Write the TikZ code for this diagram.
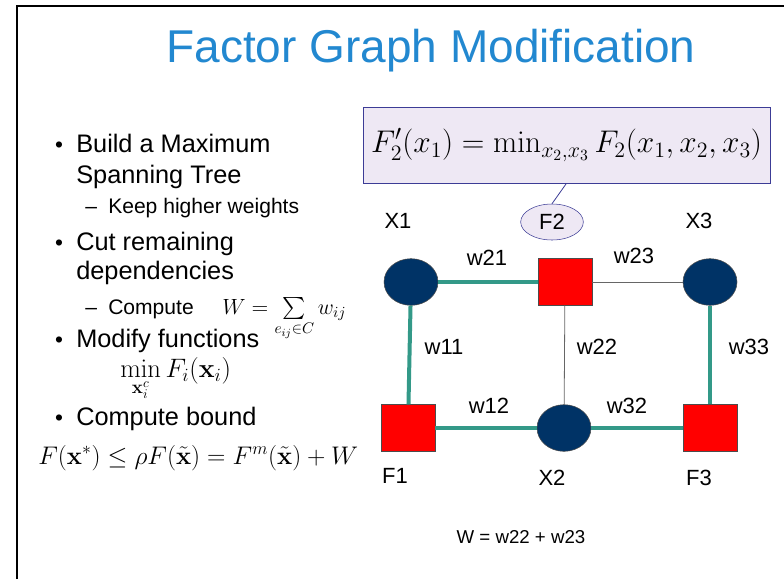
\RequirePackage{fix-cm}
\documentclass[tikz,border=0pt]{standalone}
\usepackage{amsmath}
\usepackage{amssymb}
\usepackage[no-math]{fontspec}
\newfontfamily\slidefont{Liberation Sans}
\usetikzlibrary{positioning}
\usetikzlibrary{shapes.geometric}
\definecolor{titleblue}{RGB}{34,136,208}
\definecolor{darkteal}{RGB}{51,153,136}
\definecolor{darknavy}{RGB}{0,51,102}
\definecolor{lavender}{RGB}{238,232,244}
\definecolor{darkpurple}{RGB}{60,60,150}
\tikzset {
  % variable and factor vertices
  var/.style = {draw=black!70, fill=darknavy, ellipse, minimum width=40.5pt, minimum height=35pt, inner sep=0pt},
  fac/.style = {draw=black!70, fill=red, rectangle, minimum width=40.5pt, minimum height=35pt, inner sep=0pt},
  % edges kept in the tree and edges that are cut
  kept/.style = {darkteal, line width=3pt},
  cut/.style = {black!60, line width=0.6pt},
  % text
  lab/.style = {inner sep=0pt, font=\slidefont\fontsize{16.5}{19}\selectfont},
  item/.style = {inner sep=0pt, anchor=base west, font=\slidefont\fontsize{19}{22}\selectfont},
  subitem/.style = {inner sep=0pt, anchor=base west, font=\slidefont\fontsize{15.8}{18}\selectfont},
  bul/.style = {inner sep=0pt, anchor=base, font=\slidefont\fontsize{17}{19}\selectfont},
  eq/.style = {inner sep=0pt, anchor=base west},
}
\begin{document}
\begin{tikzpicture}[x=0.75pt, y=-0.75pt]
  \useasboundingbox (0,0) rectangle (784,579);
  \draw[line width=1.6pt] (17,579) -- (17,6) -- (784,6);

  \node[inner sep=0pt, anchor=base, text=titleblue, font=\slidefont\fontsize{34.5}{40}\selectfont] (title) at (431,62) {Factor Graph Modification};

  % bullet list
  \node[bul] (b1) at (59,152) {\textbullet};
  \node[item] (t1) at (76,152) {Build a Maximum};
  \node[item] (t2) at (76,183) {Spanning Tree};
  \node[subitem] (d1) at (85,213) {\textendash};
  \node[subitem] (s1) at (108,213) {Keep higher weights};
  \node[bul] (b2) at (59,250) {\textbullet};
  \node[item] (t3) at (76,250) {Cut remaining};
  \node[item] (t4) at (76,279) {dependencies};
  \node[subitem] (d2) at (85,314) {\textendash};
  \node[subitem] (s2) at (108,314) {Compute};
  \node[eq, font=\fontsize{16.5}{19}\selectfont] (wsum) at (222,314) {$W=\sum\limits_{e_{ij}\in C} w_{ij}$};
  \node[bul] (b3) at (59,347) {\textbullet};
  \node[item] (t5) at (76,347) {Modify functions};
  \node[eq, font=\fontsize{20}{23}\selectfont] (minf) at (120,377) {$\displaystyle \min_{\mathbf{x}_i^c} F_i(\mathbf{x}_i)$};
  \node[bul] (b4) at (59,425) {\textbullet};
  \node[item] (t6) at (76,425) {Compute bound};
  \node[eq, font=\fontsize{19.1}{22}\selectfont] (bound) at (38,464) {$F(\mathbf{x}^*)\leq\rho F(\tilde{\mathbf{x}})=F^m(\tilde{\mathbf{x}})+W$};

  % callout
  \node[draw=darkpurple, fill=lavender, minimum width=305pt, minimum height=57pt, inner sep=0pt, font=\fontsize{23.5}{28}\selectfont] (call) at (566.5,145) {$F_2'(x_1)=\min_{x_2,x_3}F_2(x_1,x_2,x_3)$};
  \node[draw=darkpurple, fill=lavender, ellipse, minimum width=47pt, minimum height=27pt, inner sep=0pt, font=\slidefont\fontsize{16.5}{19}\selectfont] (f2tag) at (552,222) {F2};
  \draw[darkpurple, line width=0.6pt] (call.south) -- (f2tag.north);

  % factor graph
  \node[var] (x1) at (411,282) {};
  \node[fac] (f2) at (565,282) {};
  \node[var] (x3) at (710,282) {};
  \node[fac] (f1) at (408,428) {};
  \node[var] (x2) at (564,428) {};
  \node[fac] (f3) at (710,428) {};

  \draw[kept] (x1) -- (f2);
  \draw[kept] (x1) -- (f1);
  \draw[kept] (f1) -- (x2);
  \draw[kept] (x2) -- (f3);
  \draw[kept] (x3) -- (f3);
  \draw[cut] (f2) -- (x3);
  \draw[cut] (f2) -- (x2);

  \node[lab] (lx1) at (398,221) {X1};
  \node[lab] (lx3) at (699,221) {X3};
  \node[lab] (lf1) at (395,476) {F1};
  \node[lab] (lx2) at (552,478) {X2};
  \node[lab] (lf3) at (699,478) {F3};

  \node[lab] (w21) at (487,258) {w21};
  \node[lab] (w23) at (634,256) {w23};
  \node[lab] (w11) at (444,347) {w11};
  \node[lab] (w22) at (597,347) {w22};
  \node[lab] (w33) at (749,347) {w33};
  \node[lab] (w12) at (489,406) {w12};
  \node[lab] (w32) at (627,406) {w32};

  \node[inner sep=0pt, font=\slidefont\fontsize{14}{17}\selectfont] (wtotal) at (521,537) {W = w22 + w23};
\end{tikzpicture}
\end{document}
